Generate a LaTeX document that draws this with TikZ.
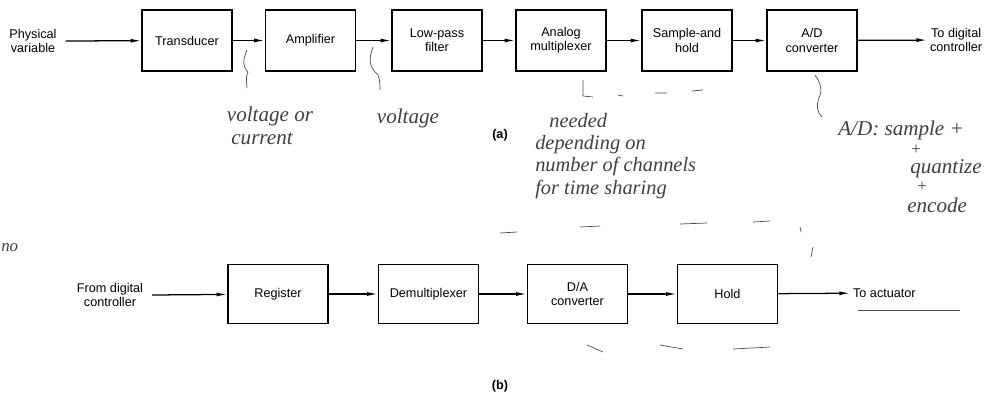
\documentclass[tikz,border=0pt]{standalone}
\usepackage{fontspec}
\setmainfont{Liberation Sans}
\newfontfamily\handfont{Liberation Serif}
\usetikzlibrary{arrows.meta}

\tikzset{
  blk/.style={draw, line width=1.1pt, minimum width=2.25cm, minimum height=1.52cm, align=center, inner sep=1pt},
  lbl/.style={align=center, inner sep=2pt},
  flow/.style={line width=0.9pt, ->},
  pen/.style={black!70, line width=0.5pt},
  note/.style={text=black!75, inner sep=0pt, font=\fontsize{15}{17}\selectfont\handfont\itshape},
  >={Latex[length=7.5pt,width=2.8pt]}
}

\begin{document}
\begin{tikzpicture}[x=0.025cm, y=-0.025cm, font=\fontsize{9}{10}\selectfont]
    \useasboundingbox (0,0) rectangle (1005,396);

    %(a) blocks
    \node[lbl] (phys) at (33,41) {Physical\\variable};
    \node[blk] (trans) at (187,40.5) {Transducer};
    \node[blk] (amp) at (310.5,40.5) {Amplifier};
    \node[blk] (lpf) at (437,40.5) {Low-pass\\filter};
    \node[blk] (amux) at (561,40.5) {Analog\\multiplexer};
    \node[blk] (sah) at (687,40.5) {Sample-and\\hold};
    \node[blk] (adc) at (812,40.5) {A/D\\converter};
    \node[lbl, anchor=west] (todig) at (927,40) {To digital\\controller};
    \node[font=\fontsize{9}{10}\selectfont\bfseries] (capa) at (500,135) {(a)};

    %(a) arrows
    \draw[flow] (phys.east) ++(6,0) -- (trans);
    \draw[flow] (trans) -- (amp);
    \draw[flow] (amp) -- (lpf);
    \draw[flow] (lpf) -- (amux);
    \draw[flow] (amux) -- (sah);
    \draw[flow] (sah) -- (adc);
    \draw[flow] (adc) -- (todig);

    %(b) blocks
    \node[lbl] (fromdig) at (110,295) {From digital\\controller};
    \node[blk, minimum width=2.5cm, minimum height=1.48cm] (reg) at (278,294) {Register};
    \node[blk, minimum width=2.5cm, minimum height=1.48cm] (demux) at (428.5,294) {Demultiplexer};
    \node[blk, minimum width=2.5cm, minimum height=1.48cm] (dac) at (577.5,294) {D/A\\converter};
    \node[blk, minimum width=2.5cm, minimum height=1.48cm] (hold) at (727.5,294) {Hold};
    \node[lbl, anchor=west] (toact) at (850,293) {To actuator};
    \node[font=\fontsize{9}{10}\selectfont\bfseries] (capb) at (500,386) {(b)};

    %(b) arrows
    \draw[flow] (fromdig.east) ++(6,0) -- (reg);
    \draw[flow] (reg) -- (demux);
    \draw[flow] (demux) -- (dac);
    \draw[flow] (dac) -- (hold);
    \draw[flow] (hold) -- (toact);

    %pencil notes
    \draw[pen] (247,50) .. controls (243,60) and (242,66) .. (248,72) .. controls (245,78) and (247,84) .. (247,88);
    \draw[pen] (373,47) .. controls (369,58) and (368,66) .. (378,75) .. controls (380,80) and (380,85) .. (380,90);
    \draw[pen] (583,80) -- (583,96) -- (593,97);
    \draw[pen] (618,95) -- (623,96) (655,93) -- (667,93) (692,91) -- (703,90);
    \draw[pen] (815,75) .. controls (822,85) and (822,92) .. (819,98) .. controls (816,106) and (817,112) .. (822,117);
    \draw[pen] (858,310) -- (960,310);
    \draw[pen] (500,233) -- (517,232) (580,227) -- (600,226) (680,224) -- (707,223) (753,222) -- (770,221) (800,227) -- (801,232);
    \draw[pen] (587,345) -- (603,352) (660,345) -- (683,349) (733,349) -- (770,347) (813,247) -- (811,257);
    \node[note] (n1) at (270,116) {voltage or};
    \node[note] (n2) at (262,139) {current};
    \node[note] (n3) at (408,118) {voltage};
    \node[note, anchor=north west, align=left, font=\fontsize{14.5}{15.8}\selectfont\handfont\itshape] (n4) at (535,113)
        {\hspace{10pt}needed\\depending on\\number of channels\\for time sharing};
    \node[note, anchor=west] (n8) at (838,130) {A/D: sample +};
    \node[note, font=\fontsize{12}{13}\selectfont\handfont] (n9) at (916,150) {+};
    \node[note, anchor=west] (n10) at (910,169) {quantize};
    \node[note, font=\fontsize{12}{13}\selectfont\handfont] (n11) at (922,187) {+};
    \node[note, anchor=west] (n12) at (907,205) {encode};
    \node[note, anchor=west, font=\fontsize{12}{13}\selectfont\handfont\itshape] (n13) at (1,248) {no};
\end{tikzpicture}
\end{document}
